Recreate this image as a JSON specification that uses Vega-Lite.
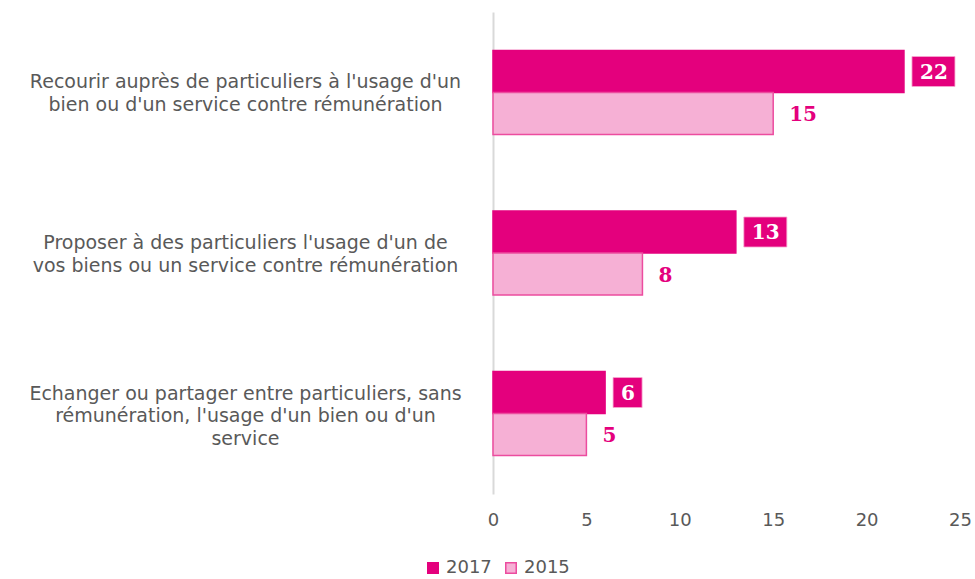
{
  "$schema": "https://vega.github.io/schema/vega-lite/v6.json",
  "width": 467,
  "height": 482,
  "autosize": "none",
  "padding": {"left": 493, "top": 12, "right": 15, "bottom": 85},
  "background": "white",
  "config": {
    "view": {"stroke": null},
    "font": "DejaVu Sans"
  },
  "data": {
    "values": [
      {"cat": "Recourir auprès de particuliers à l'usage d'un|bien ou d'un service contre rémunération", "year": "2017", "value": 22},
      {"cat": "Recourir auprès de particuliers à l'usage d'un|bien ou d'un service contre rémunération", "year": "2015", "value": 15},
      {"cat": "Proposer à des particuliers l'usage d'un de|vos biens ou un service contre rémunération", "year": "2017", "value": 13},
      {"cat": "Proposer à des particuliers l'usage d'un de|vos biens ou un service contre rémunération", "year": "2015", "value": 8},
      {"cat": "Echanger ou partager entre particuliers, sans|rémunération, l'usage d'un bien ou d'un|service", "year": "2017", "value": 6},
      {"cat": "Echanger ou partager entre particuliers, sans|rémunération, l'usage d'un bien ou d'un|service", "year": "2015", "value": 5}
    ]
  },
  "encoding": {
    "y": {
      "field": "cat", "type": "nominal", "sort": null, "title": null,
      "scale": {"paddingInner": 0.477, "paddingOuter": 0.24},
      "axis": {
        "labelExpr": "split(datum.label, '|')",
        "labelAlign": "center",
        "labelBaseline": "middle",
        "labelPadding": 248,
        "labelFontSize": 19,
        "labelLineHeight": 22.5,
        "labelColor": "#595959",
        "labelLimit": 600,
        "labelOffset": {"condition": {"test": "length(split(datum.value, '|')) > 2", "value": -20}, "value": -10},
        "ticks": false,
        "domainColor": "#d9d9d9",
        "domainWidth": 2
      }
    },
    "yOffset": {"field": "year", "type": "nominal", "sort": ["2017", "2015"], "scale": {"domain": ["2017", "2015"], "paddingInner": 0, "paddingOuter": 0}},
    "x": {
      "field": "value", "type": "quantitative", "title": null,
      "scale": {"domain": [0, 25], "nice": false},
      "axis": {
        "values": [0, 5, 10, 15, 20, 25],
        "grid": false, "domain": false, "ticks": false, "labelFlush": false,
        "labelFontSize": 18, "labelColor": "#595959", "labelPadding": 17
      }
    }
  },
  "layer": [
    {
      "mark": {"type": "bar", "strokeWidth": 1.5},
      "encoding": {
        "fill": {
          "field": "year", "type": "nominal", "title": null,
          "sort": ["2017", "2015"],
          "scale": {"domain": ["2017", "2015"], "range": ["#E4007D", "#F6B0D5"]},
          "legend": {
            "orient": "none", "direction": "horizontal",
            "legendX": -69, "legendY": 547,
            "symbolType": "square", "symbolSize": 110, "symbolStrokeWidth": 1.5,
            "labelFontSize": 18, "labelColor": "#595959", "columnPadding": 10, "labelOffset": 4
          }
        },
        "stroke": {
          "field": "year", "type": "nominal", "title": null,
          "sort": ["2017", "2015"],
          "scale": {"domain": ["2017", "2015"], "range": ["#E4007D", "#EC4C9F"]}
        }
      }
    },
    {
      "transform": [{"filter": "datum.year == '2017' && datum.value >= 10"}],
      "mark": {"type": "bar", "height": 30, "xOffset": 8, "x2Offset": 51, "fill": "#E4007D", "stroke": "#F7A8D0", "strokeWidth": 0.8},
      "encoding": {"x2": {"field": "value"}}
    },
    {
      "transform": [{"filter": "datum.year == '2017' && datum.value < 10"}],
      "mark": {"type": "bar", "height": 30, "xOffset": 8, "x2Offset": 37, "fill": "#E4007D", "stroke": "#F7A8D0", "strokeWidth": 0.8},
      "encoding": {"x2": {"field": "value"}}
    },
    {
      "transform": [{"filter": "datum.year == '2017'"}],
      "mark": {"type": "text", "align": "left", "baseline": "middle", "dx": 16, "dy": 1, "font": "DejaVu Serif", "fontWeight": "bold", "fontSize": 20, "fill": "white"},
      "encoding": {"text": {"field": "value", "type": "quantitative"}}
    },
    {
      "transform": [{"filter": "datum.year == '2015'"}],
      "mark": {"type": "text", "align": "left", "baseline": "middle", "dx": 16, "dy": 2, "font": "DejaVu Serif", "fontWeight": "bold", "fontSize": 20, "fill": "#E4007D"},
      "encoding": {"text": {"field": "value", "type": "quantitative"}}
    }
  ]
}
